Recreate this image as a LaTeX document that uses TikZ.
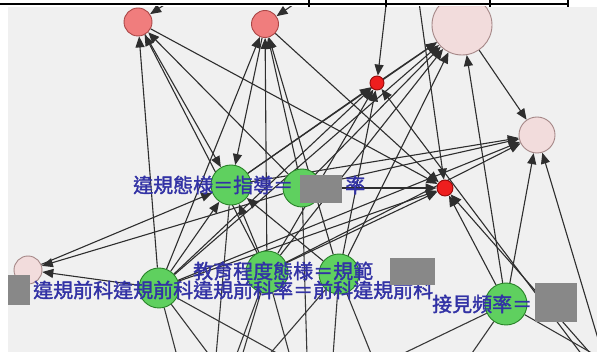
\documentclass[tikz,border=0pt]{standalone}
\usepackage{fontspec}
\newfontfamily\cjk[AutoFakeBold=1.6]{Noto Sans CJK TC}
\usetikzlibrary{arrows.meta}
\definecolor{bgc}{RGB}{240,240,240}
\definecolor{salf}{RGB}{240,125,125}
\definecolor{sald}{RGB}{170,70,70}
\definecolor{redf}{RGB}{238,30,30}
\definecolor{redd}{RGB}{150,10,10}
\definecolor{pinkf}{RGB}{242,220,220}
\definecolor{pinkd}{RGB}{165,135,135}
\definecolor{grnf}{RGB}{95,208,95}
\definecolor{grnd}{RGB}{40,130,40}
\definecolor{lblc}{RGB}{50,50,165}
\definecolor{boxc}{RGB}{136,136,136}
\pgfdeclarelayer{back}
\pgfdeclarelayer{edges}
\pgfsetlayers{back,edges,main}
\begin{document}
\begin{tikzpicture}[x=1pt,y=-1pt,
  nd/.style={circle,inner sep=0pt,line width=0.9pt},
  salnode/.style={nd,fill=salf,draw=sald},
  rednode/.style={nd,fill=redf,draw=redd},
  pinknode/.style={nd,fill=pinkf,draw=pinkd},
  grnnode/.style={nd,fill=grnf,draw=grnd},
  edge/.style={draw=black!82,line width=1.1pt,-{Triangle[length=11pt,width=9pt]}},
  pline/.style={draw=black!78,line width=1.1pt},
  lbl/.style={font=\cjk\bfseries\fontsize{20}{20}\selectfont,text=lblc,anchor=west,inner sep=0pt},
  graybox/.style={fill=boxc,draw=none}]
\useasboundingbox (0,0) rectangle (597,352);
\begin{pgfonlayer}{back}
  \fill[white] (0,0) rectangle (597,352);
  \fill[bgc] (8,7) rectangle (597,352);
  \draw[line width=1.6pt] (0,4) -- (568,4);
  \foreach \tx in {309,386,490,568} \draw[line width=1.2pt] (\tx,0) -- (\tx,7);
\end{pgfonlayer}
% nodes
\begin{scope}
  \clip (8,7) rectangle (597,352);
  \node[salnode,minimum size=28pt] (r1) at (138,22) {};
  \node[salnode,minimum size=27pt] (r2) at (265,24) {};
  \node[rednode,minimum size=14pt] (r3) at (377,83) {};
  \node[pinknode,minimum size=60pt] (p4) at (462,25) {};
  \node[pinknode,minimum size=36pt] (p5) at (537,135) {};
  \node[rednode,minimum size=16pt] (r6) at (445,188) {};
  \node[grnnode,minimum size=40pt] (g7) at (231,185) {};
  \node[grnnode,minimum size=38pt] (g8) at (302,188) {};
  \node[pinknode,minimum size=28pt] (p9) at (28,270) {};
  \node[grnnode,minimum size=40pt] (g10) at (159,288) {};
  \node[grnnode,minimum size=42pt] (g11) at (267,272) {};
  \node[grnnode,minimum size=40pt] (g12) at (339,274) {};
  \node[grnnode,minimum size=42pt] (g13) at (506,304) {};
\end{scope}
% off-picture end points
\coordinate (T1) at (195,-15);
\coordinate (T2) at (322,-15);
\coordinate (T3) at (388,-12);
\coordinate (T4) at (417,-12);
\coordinate (BR1) at (602,352);
\coordinate (BR2) at (598,362);
\coordinate (BR3) at (610,392);
\coordinate (BR4) at (604,360);
\coordinate (B1) at (177,356);
\coordinate (B2) at (210,356);
\coordinate (B3) at (282,356);
\coordinate (B4) at (216,356);
\coordinate (B5) at (236,356);
\coordinate (B6) at (242,356);
\coordinate (B7) at (290,356);
\coordinate (B8) at (307,356);
\coordinate (B9) at (333,356);
\coordinate (B10) at (372,356);
\coordinate (B11) at (268,356);
\coordinate (B12) at (398,356);
\coordinate (B13) at (470,356);
\begin{pgfonlayer}{edges}
\begin{scope}
  \clip (8,7) rectangle (597,352);
  % from outside the top
  \draw[edge] (T1) -- (r1);
  \draw[edge] (T2) -- (r2);
  \draw[edge] (T3) -- (r3);
  \draw[edge] (T4) -- (r6);
  % r1
  \draw[edge] (r1) -- (g7);
  \draw[edge] (g8) -- (r1);
  \draw[edge] (g11) -- (r1);
  \draw[edge] (g10) -- (r1);
  \draw[edge] (r1) -- (r6);
  % r2
  \draw[edge] (r2) -- (g7);
  \draw[edge] (g10) -- (r2);
  \draw[edge] (g11) -- (r2);
  \draw[edge] (g8) -- (r2);
  \draw[edge] (g12) -- (r2);
  \draw[edge] (r2) -- (r6);
  % r3
  \draw[edge] (g7) -- (r3);
  \draw[edge] (g10) -- (r3);
  \draw[edge] (g11) -- (r3);
  \draw[edge] (g12) -- (r3);
  \draw[edge] (BR3) -- (r3);
  % p4
  \draw[edge] (r3) -- (p4);
  \draw[edge] (g8) -- (p4);
  \draw[edge] (g11) -- (p4);
  \draw[edge] (g12) -- (p4);
  \draw[edge] (g7) -- (p4);
  \draw[edge] (g10) -- (p4);
  \draw[edge] (g13) -- (p4);
  % p5
  \draw[edge] (p4) -- (p5);
  \draw[edge] (g7) -- (p5);
  \draw[edge] (g8) -- (p5);
  \draw[edge] (g11) -- (p5);
  \draw[edge] (g10) -- (p5);
  \draw[edge] (g13) -- (p5);
  \draw[edge] (BR1) -- (p5);
  % r6
  \draw[edge] (g8) -- (r6);
  \draw[edge] (g11) -- (r6);
  \draw[edge] (g10) -- (r6);
  \draw[edge] (g13) -- (r6);
  \draw[edge] (BR2) -- (r6);
  % p9 and g7
  \draw[edge] (p9) -- (g7);
  \draw[edge] (g8) -- (p9);
  \draw[edge] (g10) -- (p9);
  \draw[edge] (g10) -- (g7);
  \draw[edge] (g11) -- (g7);
  \draw[edge] (g12) -- (g7);
  % towards nodes below the picture
  \draw[pline] (g10) -- (B1);
  \draw[pline] (g10) -- (B2);
  \draw[pline] (g10) -- (B3);
  \draw[pline] (g7) -- (B4);
  \draw[pline] (g11) -- (B5);
  \draw[pline] (g11) -- (B6);
  \draw[pline] (g11) -- (B7);
  \draw[pline] (g8) -- (B8);
  \draw[pline] (g12) -- (B9);
  \draw[pline] (g12) -- (B10);
  \draw[pline] (g12) -- (B11);
  \draw[pline] (g13) -- (B12);
  \draw[pline] (g13) -- (B13);
  \draw[pline] (g13) -- (BR4);
\end{scope}
\end{pgfonlayer}
% labels
\node[lbl] (la) at (133,185) {違規態様＝指導＝};
\node[lbl] (lb) at (345,185) {率};
\node[lbl] (lc) at (193,271) {教育程度態様＝規範};
\node[lbl] (ld) at (33,290) {違規前科違規前科違規前科率＝前科違規前科};
\node[lbl] (le) at (432,304) {接見頻率＝};
% grey boxes
\fill[graybox] (300,175) rectangle (342,203);
\fill[graybox] (390,258) rectangle (435,285);
\fill[graybox] (535,283) rectangle (577,322);
\fill[graybox] (8,275) rectangle (30,305);
\end{tikzpicture}
\end{document}
